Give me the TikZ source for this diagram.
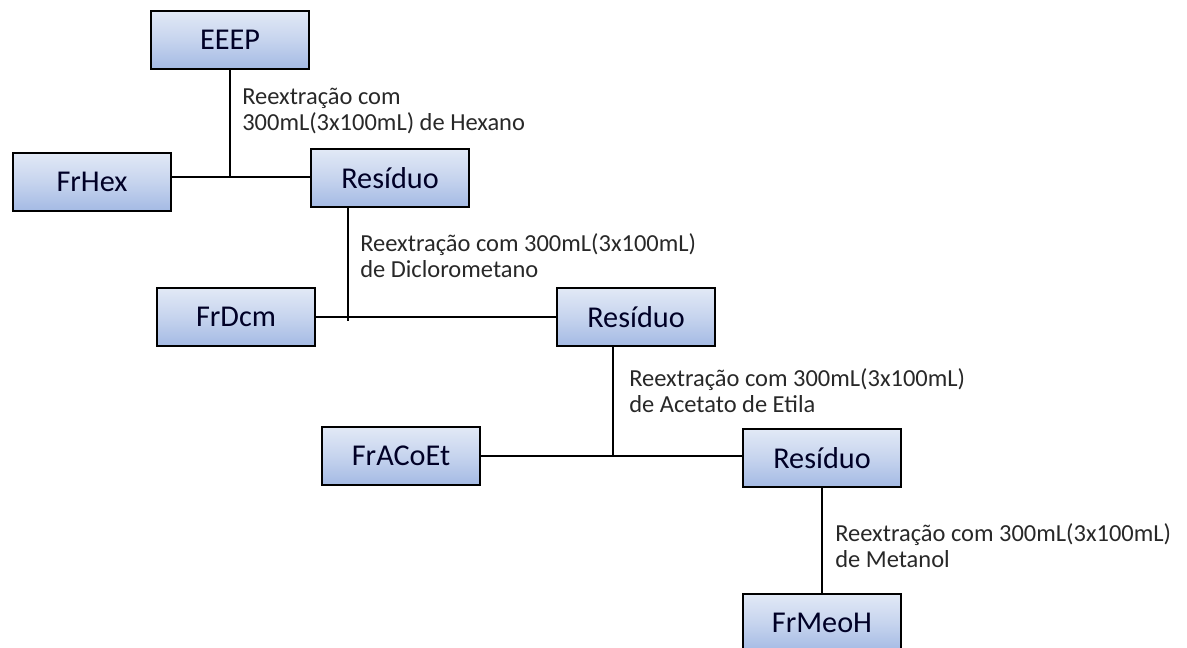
\documentclass[tikz,border=0pt]{standalone}
\usepackage{fontspec}
\setmainfont{Carlito}
\usepackage{tikz}
\usepackage{xcolor}
\definecolor{boxtop}{RGB}{226,233,246}
\definecolor{boxbottom}{RGB}{164,186,228}
\definecolor{textgray}{RGB}{40,40,40}

\begin{document}
\begin{tikzpicture}[x=0.025cm, y=-0.025cm,
    fracbox/.style={draw=black, line width=1.8pt, top color=boxtop, bottom color=boxbottom,
        middle color=boxtop!55!boxbottom, minimum width=3.95cm, minimum height=1.45cm,
        inner sep=0pt, font=\fontsize{21.5}{24}\selectfont, text=black!85!blue},
    steplabel/.style={anchor=west, inner sep=0pt, align=left,
        font=\fontsize{17.4}{18.6}\selectfont, text=textgray},
    link/.style={line width=1.4pt, black}]
        \clip (0,0) rectangle (1187,647);
        \useasboundingbox (0,0) rectangle (1187,647);

        % Caixas
        \node[fracbox] (eeep) at (230,40) {EEEP};
        \node[fracbox] (frhex) at (92,182) {FrHex};
        \node[fracbox] (res1) at (390,178) {Resíduo};
        \node[fracbox] (frdcm) at (236,317) {FrDcm};
        \node[fracbox] (res2) at (636,317) {Resíduo};
        \node[fracbox] (fracoet) at (401,456) {FrACoEt};
        \node[fracbox] (res3) at (822,458) {Resíduo};
        \node[fracbox] (frmeoh) at (822,623) {FrMeoH};

        % Pontos de juncao
        \coordinate (j1) at (230,177);
        \coordinate (j2) at (348,317);
        \coordinate (j3) at (613,456);

        % Ligacoes
        \draw[link] (frhex.east |- j1) -- (res1.west |- j1);
        \draw[link] (eeep.south) -- (j1);
        \draw[link] (frdcm.east |- j2) -- (res2.west |- j2);
        \draw[link] (res1.south -| j2) -- ([yshift=-3]j2);
        \draw[link] (fracoet.east |- j3) -- (res3.west |- j3);
        \draw[link] (res2.south -| j3) -- (j3);
        \draw[link] (res3.south) -- (frmeoh.north);

        % Solventes
        \node[steplabel] (lab1) at (242,111) {Reextração com\\300mL(3x100mL) de Hexano};
        \node[steplabel] (lab2) at (360,256) {Reextração com 300mL(3x100mL)\\de Diclorometano};
        \node[steplabel] (lab3) at (629,391) {Reextração com 300mL(3x100mL)\\de Acetato de Etila};
        \node[steplabel] (lab4) at (835,546) {Reextração com 300mL(3x100mL)\\de Metanol};
    \end{tikzpicture}
\end{document}
